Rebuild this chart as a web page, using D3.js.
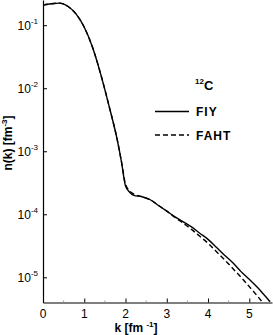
<!DOCTYPE html>
<html>
<head>
<meta charset="utf-8">
<script src="https://cdn.jsdelivr.net/npm/d3@7"></script>
<style>
  body { margin: 0; background: #fff; }
  svg { font-family: "Liberation Sans", Arial, sans-serif; }
</style>
</head>
<body>
<script>
// momentum distribution of 12C
const kFIY = [0, 0.2, 0.4, 0.6, 0.8, 1.0, 1.2, 1.4, 1.6, 1.8, 1.9, 2.0, 2.1, 2.2, 2.4, 2.6, 2.8, 3.0, 3.2, 3.4, 3.6, 3.8, 4.0, 4.2, 4.4, 4.6, 4.8, 5.0, 5.2, 5.4, 5.5];
const nFIY = [0.209, 0.219, 0.224, 0.200, 0.151, 0.093, 0.0447, 0.0166, 5.25e-3, 1.51e-3, 6.9e-4, 2.8e-4, 2.24e-4, 2.0e-4, 1.9e-4, 1.7e-4, 1.38e-4, 1.12e-4, 9.1e-5, 7.6e-5, 6.3e-5, 5.0e-5, 4.0e-5, 3.0e-5, 2.24e-5, 1.7e-5, 1.23e-5, 9.3e-6, 6.9e-6, 4.9e-6, 4.1e-6];
const kFAHT = [0, 0.2, 0.4, 0.6, 0.8, 1.0, 1.2, 1.4, 1.6, 1.8, 1.9, 2.0, 2.1, 2.2, 2.4, 2.6, 2.8, 3.0, 3.2, 3.4, 3.6, 3.8, 4.0, 4.2, 4.4, 4.6, 4.8, 5.0, 5.2, 5.35];
const nFAHT = [0.209, 0.219, 0.224, 0.200, 0.151, 0.093, 0.0447, 0.0166, 5.25e-3, 1.51e-3, 6.9e-4, 3.0e-4, 2.34e-4, 2.09e-4, 1.9e-4, 1.7e-4, 1.38e-4, 1.12e-4, 8.9e-5, 7.2e-5, 5.75e-5, 4.47e-5, 3.47e-5, 2.57e-5, 1.9e-5, 1.38e-5, 1.0e-5, 7.1e-6, 5.0e-6, 3.8e-6];

const xTicks = [0, 1, 2, 3, 4, 5];
const yTickExp = [-1, -2, -3, -4, -5];
const legendNames = ["FIY", "FAHT"];

const W = 273, H = 335;
const mLeft = 43, mTop = 0, mRight = 272, mBottom = 302.5;

const svg = d3.select("body").append("svg")
    .attr("width", W)
    .attr("height", H);

const x = d3.scaleLinear().domain([0, 5.55]).range([mLeft, mRight]);
const y = d3.scaleLog().domain([Math.pow(10, -5.4), Math.pow(10, -0.6)]).range([mBottom, mTop]);

svg.append("defs").append("clipPath").attr("id", "clip")
    .append("rect")
    .attr("x", mLeft).attr("y", mTop)
    .attr("width", mRight - mLeft).attr("height", mBottom - mTop);

// x axis, ticks pointing inward
const xAxis = svg.append("g")
    .attr("transform", `translate(0,${mBottom})`)
    .call(d3.axisBottom(x).tickValues(xTicks).tickSizeInner(-4).tickSizeOuter(0).tickFormat(""));
xAxis.select(".domain").attr("stroke-width", 1.2);

// minor x ticks
svg.append("g").selectAll("line")
    .data(d3.range(0.5, 5.6, 1))
    .join("line")
    .attr("x1", d => x(d)).attr("x2", d => x(d))
    .attr("y1", mBottom).attr("y2", mBottom - 2)
    .attr("stroke", "#999");

svg.append("g").selectAll("text")
    .data(xTicks)
    .join("text")
    .attr("x", d => x(d))
    .attr("y", mBottom + 15)
    .attr("text-anchor", "middle")
    .attr("font-size", 12)
    .text(d => d);

// y axis
const yAxis = svg.append("g")
    .attr("transform", `translate(${mLeft},0)`)
    .call(d3.axisLeft(y).tickValues(yTickExp.map(e => Math.pow(10, e))).tickSizeInner(-4).tickSizeOuter(0).tickFormat(""));
yAxis.select(".domain").attr("stroke-width", 1.2);

const yLab = svg.append("g").selectAll("text")
    .data(yTickExp)
    .join("text")
    .attr("x", mLeft - 5)
    .attr("y", d => y(Math.pow(10, d)) + 5)
    .attr("text-anchor", "end")
    .attr("font-size", 12);
yLab.append("tspan").text("10");
yLab.append("tspan").attr("dy", -6).attr("font-size", 8).text(d => d);

// curves
const line = d3.line()
    .x(d => x(d[0]))
    .y(d => y(d[1]))
    .curve(d3.curveMonotoneX);

const plot = svg.append("g").attr("clip-path", "url(#clip)");
plot.append("path")
    .datum(d3.zip(kFAHT, nFAHT))
    .attr("fill", "none")
    .attr("stroke", "#000")
    .attr("stroke-width", 1.4)
    .attr("stroke-dasharray", "5,3")
    .attr("d", line);
plot.append("path")
    .datum(d3.zip(kFIY, nFIY))
    .attr("fill", "none")
    .attr("stroke", "#000")
    .attr("stroke-width", 1.4)
    .attr("d", line);

// legend
const lg = svg.append("g").attr("font-weight", "bold");
const nuc = lg.append("text").attr("x", 195).attr("y", 90).attr("font-size", 13);
nuc.append("tspan").attr("font-size", 8).attr("dy", -6).text("12");
nuc.append("tspan").attr("dy", 6).text("C");

legendNames.forEach((name, i) => {
    const ly = 111.5 + i * 23.5;
    lg.append("line")
        .attr("x1", 155).attr("x2", 189)
        .attr("y1", ly).attr("y2", ly)
        .attr("stroke", "#000")
        .attr("stroke-width", 1.4)
        .attr("stroke-dasharray", i === 1 ? "5,3" : null);
    lg.append("text")
        .attr("x", 196).attr("y", ly + 4.5)
        .attr("font-size", 12)
        .attr("letter-spacing", 1)
        .text(name);
});

// axis titles
const xt = svg.append("text")
    .attr("x", 136).attr("y", 332)
    .attr("text-anchor", "middle")
    .attr("font-size", 12)
    .attr("font-weight", "bold");
xt.append("tspan").text("k  [fm ");
xt.append("tspan").attr("dy", -5).attr("font-size", 8).text("-1");
xt.append("tspan").attr("dy", 5).text("]");

const yt = svg.append("text")
    .attr("transform", "translate(12,143) rotate(-90)")
    .attr("text-anchor", "middle")
    .attr("font-size", 12)
    .attr("font-weight", "bold");
yt.append("tspan").text("n(k) [fm");
yt.append("tspan").attr("dy", -5).attr("font-size", 8).text("-3");
yt.append("tspan").attr("dy", 5).text("]");
</script>
</body>
</html>
